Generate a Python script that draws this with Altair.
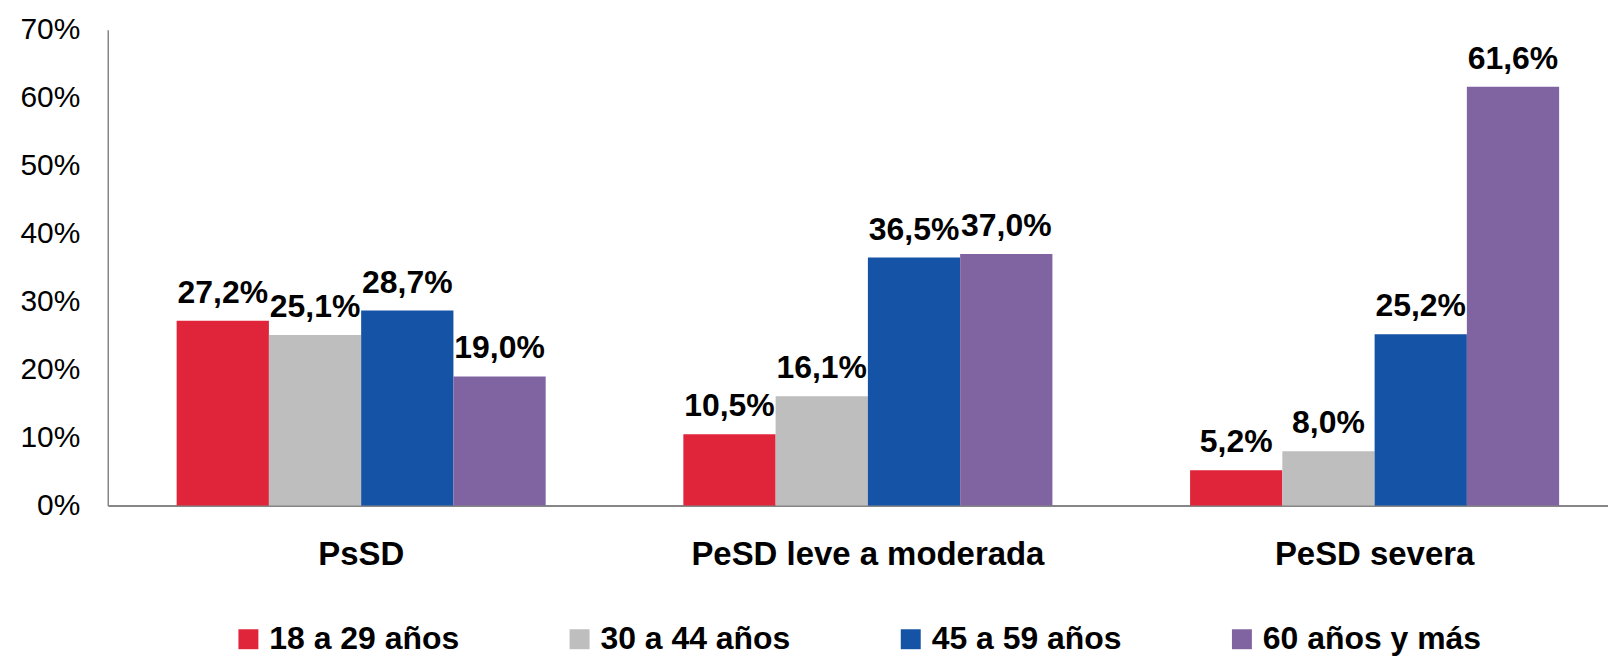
import altair as alt
import pandas as pd

categories = ["PsSD", "PeSD leve a moderada", "PeSD severa"]
age_groups = ["18 a 29 años", "30 a 44 años", "45 a 59 años", "60 años y más"]
v_18_29 = [27.2, 10.5, 5.2]
v_30_44 = [25.1, 16.1, 8.0]
v_45_59 = [28.7, 36.5, 25.2]
v_60_mas = [19.0, 37.0, 61.6]
y_ticks = [0, 10, 20, 30, 40, 50, 60, 70]
colors = ["#E0253A", "#BEBEBE", "#1453A5", "#8064A2"]

FONT = "Liberation Sans"

rows = []
for g, vals in zip(age_groups, [v_18_29, v_30_44, v_45_59, v_60_mas]):
    for c, v in zip(categories, vals):
        rows.append({"cat": c, "age": g, "value": v,
                     "label": f"{v:.1f}%".replace(".", ",")})
df = pd.DataFrame(rows)

x = alt.X("cat:N", sort=categories,
          scale=alt.Scale(paddingInner=0.2717, paddingOuter=0.1162, align=0.585),
          axis=alt.Axis(title=None, labelAngle=0, labelFont=FONT, labelFontSize=33,
                        labelFontWeight="bold", labelColor="black", ticks=False,
                        tickSize=0, labelPadding=33, labelLimit=0,
                        domainColor="#868686", domainWidth=2))
xo = alt.XOffset("age:N", sort=age_groups,
                 scale=alt.Scale(paddingInner=0, paddingOuter=0))
y = alt.Y("value:Q", scale=alt.Scale(domain=[0, 70], nice=False, zero=True),
          axis=alt.Axis(title=None, values=y_ticks, labelExpr="datum.value + '%'",
                        grid=False, ticks=False, tickSize=0, labelPadding=28,
                        labelFont=FONT, labelFontSize=30, labelColor="black",
                        domainColor="#868686", domainWidth=1.5))
color = alt.Color("age:N", sort=age_groups,
                  scale=alt.Scale(domain=age_groups, range=colors),
                  legend=alt.Legend(title=None, orient="none", legendX=125, legendY=595,
                                    direction="horizontal", columns=4,
                                    symbolType="square", symbolSize=400,
                                    symbolStrokeWidth=0, symbolOpacity=1,
                                    labelFont=FONT, labelFontSize=32,
                                    labelFontWeight="bold", labelColor="black",
                                    labelOffset=5, columnPadding=104, padding=0,
                                    labelLimit=0))

bars = alt.Chart(df).mark_bar().encode(x=x, xOffset=xo, y=y, color=color)
text = alt.Chart(df).mark_text(baseline="alphabetic", dy=-18, fontSize=32,
                               fontWeight="bold", font=FONT, color="black").encode(
    x=x, xOffset=xo, y=y, text="label:N")

chart = (bars + text).properties(
    width=1504, height=477,
    padding={"left": 100, "top": 21, "right": 0, "bottom": 152},
    autosize=alt.AutoSizeParams(type="none"),
).configure_view(stroke=None)

chart.save("out.html", embed_options={"renderer": "svg", "actions": False})
